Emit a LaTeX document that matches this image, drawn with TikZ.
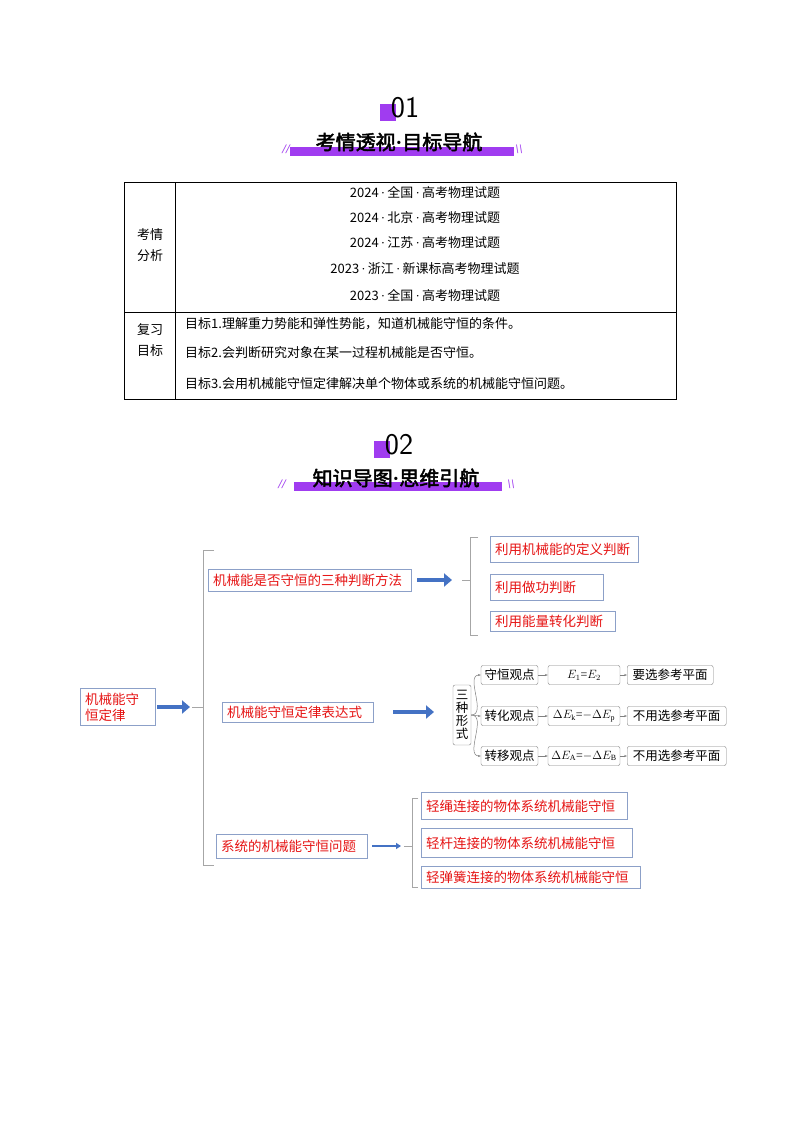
\documentclass[tikz,border=0pt]{standalone}
\usepackage{fontspec}
\setmainfont{Liberation Serif}
\newfontfamily\cjk{Noto Sans CJK SC}
\newfontfamily\cjkb{Noto Sans CJK SC}[FakeBold=2.5]
\usetikzlibrary{arrows.meta}
\definecolor{pur}{RGB}{160,60,240}
\definecolor{bluar}{RGB}{68,114,196}
\definecolor{redt}{RGB}{230,20,20}
\definecolor{boxl}{RGB}{140,160,200}
\newcommand{\dt}{{\rmfamily\,·\,}}
\begin{document}
\begin{tikzpicture}[x=1pt,y=-1pt,
 tt/.style={font=\fontsize{13}{15}\selectfont\cjk,inner sep=0pt},
 rb/.style={draw=boxl,font=\fontsize{13.5}{16}\selectfont\cjk,text=redt,inner xsep=5pt,inner ysep=2pt,anchor=west,minimum height=22pt,text width=#1-10pt,align=left},
 gb/.style={draw=gray,rounded corners=2pt,font=\fontsize{12.5}{14}\selectfont\cjk,inner sep=2pt,minimum height=19pt},
 bigar/.style={draw=bluar,line width=4pt,-{Triangle[length=8pt,width=13pt]}},
 thinar/.style={draw=bluar,line width=2pt,-{Triangle[length=5pt,width=6pt]}},
 sar/.style={draw=gray,-{Stealth[length=3pt]},line width=0.5pt},
 br/.style={draw=gray!70,line width=0.6pt}]
\useasboundingbox (0,0) rectangle (800,1132);
\fill[white] (0,0) rectangle (800,1132);
% header 1
\fill[pur] (380,104) rectangle (396,121);
\node[font=\fontsize{30}{32}\selectfont\sffamily] (h1n) at (405,108) {01};
\fill[pur] (290,147) rectangle (514,156);
\node[font=\fontsize{20}{22}\selectfont\cjkb] (h1t) at (399,142) {考情透视{\rmfamily\bfseries·}目标导航};
\node[text=pur,font=\fontsize{13}{14}\selectfont\itshape\bfseries] (h1l) at (286,149) {//};
\node[text=pur,font=\fontsize{13}{14}\selectfont\itshape\bfseries] (h1r) at (519,149) {\textbackslash\textbackslash};
% table
\draw[line width=0.6pt] (124,182) rectangle (676,399);
\draw[line width=0.6pt] (175,182) -- (175,399);
\draw[line width=0.6pt] (124,312) -- (676,312);
\node[tt,align=center] (k1) at (150,245) {考情\\[6pt]分析};
\node[tt,align=center] (k2) at (150,340) {复习\\[6pt]目标};
\foreach \y/\t in {192/{2024\dt 全国\dt 高考物理试题},218/{2024\dt 北京\dt 高考物理试题},243/{2024\dt 江苏\dt 高考物理试题},269/{2023\dt 浙江\dt 新课标高考物理试题},295/{2023\dt 全国\dt 高考物理试题}}
 \node[tt] at (425,\y) {\t};
\node[tt,anchor=west] (g1) at (185,324) {目标1.理解重力势能和弹性势能，知道机械能守恒的条件。};
\node[tt,anchor=west] (g2) at (185,353) {目标2.会判断研究对象在某一过程机械能是否守恒。};
\node[tt,anchor=west] (g3) at (185,384) {目标3.会用机械能守恒定律解决单个物体或系统的机械能守恒问题。};
% header 2
\fill[pur] (374,441) rectangle (390,458);
\node[font=\fontsize{30}{32}\selectfont\sffamily] (h2n) at (399,445) {02};
\fill[pur] (294,482) rectangle (502,491);
\node[font=\fontsize{20}{22}\selectfont\cjkb] (h2t) at (396,478) {知识导图{\rmfamily\bfseries·}思维引航};
\node[text=pur,font=\fontsize{13}{14}\selectfont\itshape\bfseries] (h2l) at (282,484) {//};
\node[text=pur,font=\fontsize{13}{14}\selectfont\itshape\bfseries] (h2r) at (511,484) {\textbackslash\textbackslash};
% mind map
\node[rb=75pt,minimum height=37pt,font=\fontsize{13.5}{16}\selectfont\cjk] (root) at (80,707) {机械能守\\恒定律};
\coordinate (bt) at (190,707);
\draw[bigar] ([xshift=2pt]root.east) -- (bt);
\draw[br] (214,550) -- (203,550) -- (203,865) -- (214,865);
\draw[br] (192,707) -- (203,707);
\node[rb=203pt] (a) at (208,580) {机械能是否守恒的三种判断方法};
\node[rb=151pt,minimum height=20pt] (b) at (222,712) {机械能守恒定律表达式};
\node[rb=151pt,minimum height=24pt] (c) at (216,846) {系统的机械能守恒问题};
% branch a
\coordinate (ae) at (452,580);
\draw[bigar,line width=3.5pt] ([xshift=6pt]a.east) -- (ae);
\draw[br] (478,537) -- (470,537) -- (470,635) -- (478,635);
\draw[br] (462,580) -- (470,580);
\node[rb=148pt,minimum height=26pt] (a1) at (490,549) {利用机械能的定义判断};
\node[rb=113pt,minimum height=26pt] (a2) at (490,587) {利用做功判断};
\node[rb=125pt,minimum height=20pt] (a3) at (490,621) {利用能量转化判断};
% branch b
\coordinate (be) at (434,712);
\draw[bigar,line width=3.5pt] ([xshift=20pt]b.east) -- (be);
\node[gb,align=center,minimum width=18pt,minimum height=60pt,inner sep=1pt,font=\fontsize{12.5}{13}\selectfont\cjk] (s) at (462,715) {三\\种\\形\\式};
\foreach \n/\y/\t/\e/\r/\w in {1/675/守恒观点/{$E_1$=$E_2$}/要选参考平面/86,2/716/转化观点/{$\Delta E_\mathrm{k}$=$-\Delta E_\mathrm{p}$}/不用选参考平面/99,3/756/转移观点/{$\Delta E_\mathrm{A}$=$-\Delta E_\mathrm{B}$}/不用选参考平面/99}{
 \node[gb,minimum width=57pt] (p\n) at (509.5,\y) {\t};
 \node[gb,minimum width=72pt,font=\fontsize{12}{13}\selectfont] (e\n) at (584,\y) {\e};
 \node[gb,minimum width=\w pt,anchor=west] (r\n) at (627,\y) {\r};
 \draw[sar] (p\n) -- (e\n);
 \draw[sar] (e\n) -- (r\n);
 \draw[gray,line width=0.5pt,-{Stealth[length=3pt]}] (s.east) to[out=0,in=180] (p\n.west);
}
% branch c
\coordinate (ce) at (401,846);
\draw[thinar] ([xshift=5pt]c.east) -- (ce);
\draw[br] (418,798) -- (412,798) -- (412,887) -- (418,887);
\draw[br] (404,846) -- (412,846);
\node[rb=206pt,minimum height=27pt] (c1) at (421,806) {轻绳连接的物体系统机械能守恒};
\node[rb=211pt,minimum height=29pt] (c2) at (421,843) {轻杆连接的物体系统机械能守恒};
\node[rb=219pt,minimum height=22pt] (c3) at (421,877) {轻弹簧连接的物体系统机械能守恒};
\end{tikzpicture}
\end{document}
